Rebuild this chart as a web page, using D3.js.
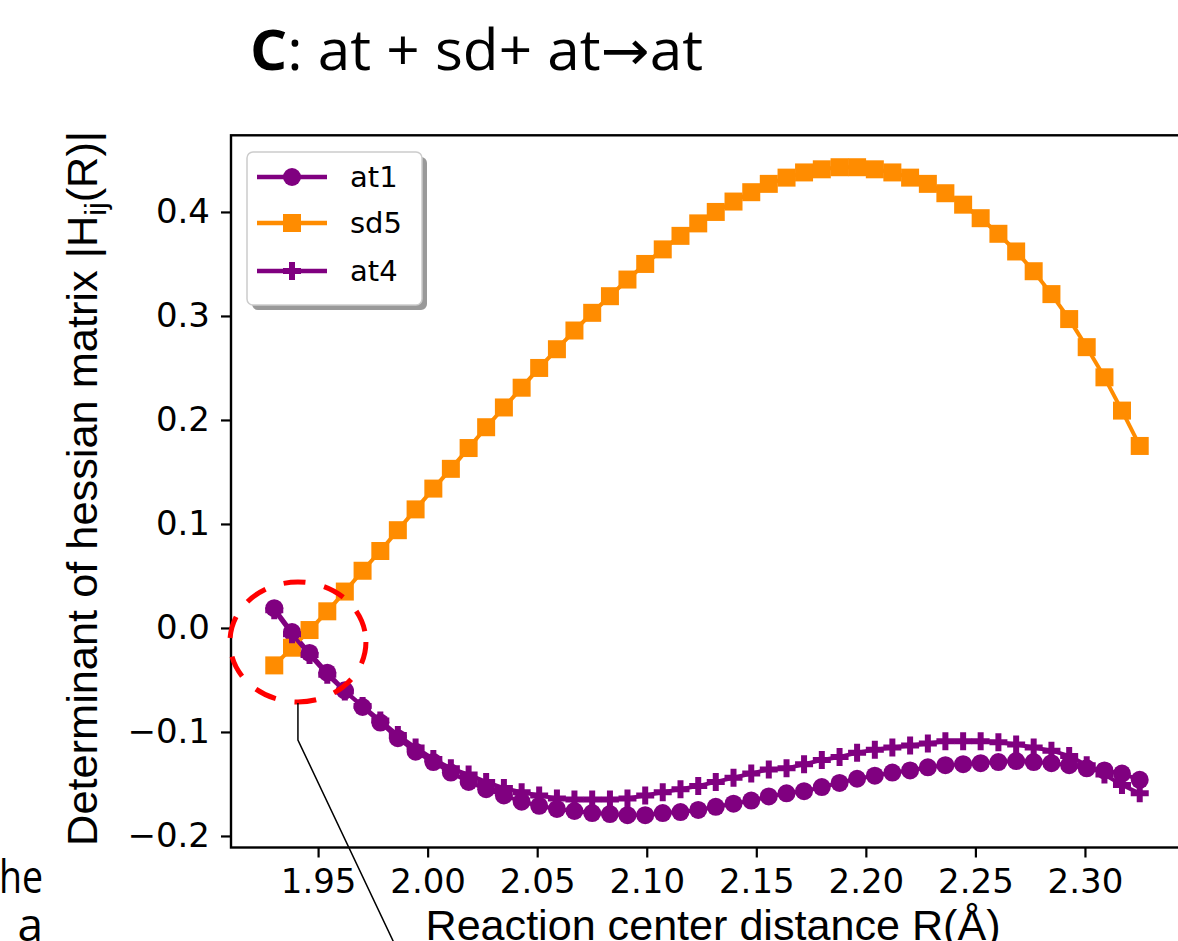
<!DOCTYPE html>
<html>
<head>
<meta charset="utf-8">
<script src="https://cdn.jsdelivr.net/npm/d3@7"></script>
<style>
  html, body { margin: 0; padding: 0; background: #fff; }
  svg { display: block; }
</style>
</head>
<body>
<svg id="chart" width="1178" height="941"></svg>
<script>
// ---------------- data ----------------
const xValues = [1.9300, 1.9381, 1.9461, 1.9542, 1.9622, 1.9703, 1.9784, 1.9864, 1.9945, 2.0026,
                 2.0106, 2.0187, 2.0267, 2.0348, 2.0429, 2.0509, 2.0590, 2.0670, 2.0751, 2.0832,
                 2.0912, 2.0993, 2.1073, 2.1154, 2.1235, 2.1315, 2.1396, 2.1477, 2.1557, 2.1638,
                 2.1718, 2.1799, 2.1880, 2.1960, 2.2041, 2.2121, 2.2202, 2.2283, 2.2363, 2.2444,
                 2.2524, 2.2605, 2.2686, 2.2766, 2.2847, 2.2928, 2.3008, 2.3089, 2.3169, 2.3250];

const at1 = [0.019, -0.004, -0.024, -0.043, -0.060, -0.076, -0.091, -0.106, -0.119, -0.129,
             -0.139, -0.148, -0.155, -0.161, -0.167, -0.171, -0.174, -0.176, -0.178, -0.179,
             -0.180, -0.180, -0.178, -0.177, -0.175, -0.172, -0.169, -0.166, -0.162, -0.159,
             -0.157, -0.153, -0.149, -0.145, -0.142, -0.139, -0.137, -0.134, -0.132, -0.131,
             -0.130, -0.129, -0.128, -0.129, -0.130, -0.132, -0.135, -0.137, -0.140, -0.146];

const sd5 = [-0.036, -0.019, -0.002, 0.016, 0.035, 0.055, 0.074, 0.094, 0.114, 0.134,
             0.153, 0.173, 0.193, 0.212, 0.231, 0.250, 0.268, 0.286, 0.303, 0.319,
             0.335, 0.350, 0.364, 0.377, 0.389, 0.400, 0.410, 0.419, 0.427, 0.433,
             0.438, 0.441, 0.443, 0.443, 0.441, 0.438, 0.433, 0.427, 0.418, 0.407,
             0.394, 0.379, 0.362, 0.343, 0.321, 0.297, 0.270, 0.241, 0.209, 0.175];

const at4 = [0.017, -0.006, -0.026, -0.045, -0.061, -0.075, -0.089, -0.103, -0.115, -0.126,
             -0.135, -0.141, -0.148, -0.154, -0.158, -0.161, -0.164, -0.165, -0.165, -0.165,
             -0.164, -0.161, -0.158, -0.155, -0.152, -0.148, -0.144, -0.140, -0.136, -0.135,
             -0.131, -0.127, -0.124, -0.120, -0.117, -0.115, -0.113, -0.111, -0.109, -0.109,
             -0.109, -0.110, -0.112, -0.115, -0.118, -0.123, -0.132, -0.141, -0.151, -0.159];

const seriesNames = ["at1", "sd5", "at4"];
const xTicks = [1.95, 2.00, 2.05, 2.10, 2.15, 2.20, 2.25, 2.30];
const xTickLabels = ["1.95", "2.00", "2.05", "2.10", "2.15", "2.20", "2.25", "2.30"];
const yTicks = [-0.2, -0.1, 0.0, 0.1, 0.2, 0.3, 0.4];
const yTickLabels = ["\u22120.2", "\u22120.1", "0.0", "0.1", "0.2", "0.3", "0.4"];

// ---------------- layout ----------------
const svg = d3.select("#chart");
const AX = { left: 231, right: 1183, top: 135.3, bottom: 847.5 };
const x = d3.scaleLinear().domain([1.91025, 2.34475]).range([AX.left, AX.right]);
const y = d3.scaleLinear().domain([-0.2111, 0.4737]).range([AX.bottom, AX.top]);

const PURPLE = "#800080", ORANGE = "#ff8c00";
const series = [
  { name: seriesNames[0], values: at1, color: PURPLE, marker: "circle" },
  { name: seriesNames[1], values: sd5, color: ORANGE, marker: "square" },
  { name: seriesNames[2], values: at4, color: PURPLE, marker: "plus" }
];

function markerPath(type, s) {
  const h = s / 2;
  if (type === "circle") {
    return `M${h},0A${h},${h} 0 1,1 ${-h},0A${h},${h} 0 1,1 ${h},0Z`;
  }
  if (type === "square") {
    return `M${-h},${-h}H${h}V${h}H${-h}Z`;
  }
  // filled plus (matplotlib 'P')
  const a = s / 6;
  return `M${-a},${-h}H${a}V${-a}H${h}V${a}H${a}V${h}H${-a}V${a}H${-h}V${-a}H${-a}Z`;
}

// ---------------- title & page fragments ----------------
const title = svg.append("text")
  .attr("x", 250).attr("y", 70)
  .attr("font-family", "'Open Sans', 'DejaVu Sans', sans-serif")
  .attr("font-size", 56)
  .attr("fill", "#000")
  .attr("textLength", 453)
  .attr("lengthAdjust", "spacingAndGlyphs");
title.append("tspan").attr("font-weight", "bold").text("C");
title.append("tspan").text(": at + sd+ at\u2192at");

svg.append("text").attr("x", -1).attr("y", 893)
  .attr("font-family", "'Open Sans', 'DejaVu Sans', sans-serif")
  .attr("font-size", 46)
  .attr("textLength", 44).attr("lengthAdjust", "spacingAndGlyphs")
  .text("he");
svg.append("text").attr("x", 43).attr("y", 941)
  .attr("text-anchor", "end")
  .attr("font-family", "'Open Sans', 'DejaVu Sans', sans-serif")
  .attr("font-size", 46).text("a");

// ---------------- axes ----------------
const xAxis = d3.axisBottom(x).tickValues(xTicks)
  .tickFormat((d, i) => xTickLabels[i]).tickSize(10).tickPadding(11);
const gx = svg.append("g").attr("transform", `translate(0,${AX.bottom})`).call(xAxis);
gx.select(".domain").remove();
gx.selectAll(".tick line").attr("stroke", "#000").attr("stroke-width", 2.2);
gx.selectAll(".tick text").attr("font-family", "'DejaVu Sans', sans-serif")
  .attr("font-size", 34).attr("fill", "#000");

const yAxis = d3.axisLeft(y).tickValues(yTicks)
  .tickFormat((d, i) => yTickLabels[i]).tickSize(10).tickPadding(11);
const gy = svg.append("g").attr("transform", `translate(${AX.left},0)`).call(yAxis);
gy.select(".domain").remove();
gy.selectAll(".tick line").attr("stroke", "#000").attr("stroke-width", 2.2);
gy.selectAll(".tick text").attr("font-family", "'DejaVu Sans', sans-serif")
  .attr("font-size", 34).attr("fill", "#000");

// frame
svg.append("rect")
  .attr("x", AX.left).attr("y", AX.top)
  .attr("width", AX.right - AX.left).attr("height", AX.bottom - AX.top)
  .attr("fill", "none").attr("stroke", "#000").attr("stroke-width", 2.4);

// axis labels
svg.append("text")
  .attr("x", (AX.left + AX.right) / 2 + 6).attr("y", 940)
  .attr("text-anchor", "middle")
  .attr("font-family", "'Liberation Sans', Arial, sans-serif")
  .attr("font-size", 43)
  .attr("textLength", 575).attr("lengthAdjust", "spacingAndGlyphs")
  .text("Reaction center distance R(\u00C5)");

const yl = svg.append("text")
  .attr("transform", `translate(97,${(AX.top + AX.bottom) / 2 - 3}) rotate(-90)`)
  .attr("text-anchor", "middle")
  .attr("font-family", "'Liberation Sans', Arial, sans-serif")
  .attr("font-size", 43)
  .attr("textLength", 715).attr("lengthAdjust", "spacingAndGlyphs");
yl.append("tspan").text("Determinant of hessian matrix |H");
yl.append("tspan").attr("font-size", 30).attr("dy", 9).text("ij");
yl.append("tspan").attr("dy", -9).text("(R)|");

// ---------------- series ----------------
const line = d3.line().x((d, i) => x(xValues[i])).y(d => y(d));
series.forEach(s => {
  const g = svg.append("g");
  g.append("path").attr("d", line(s.values))
    .attr("fill", "none").attr("stroke", s.color)
    .attr("stroke-width", 4).attr("stroke-linejoin", "round");
  g.selectAll("path.m").data(s.values).enter().append("path")
    .attr("class", "m")
    .attr("transform", (d, i) => `translate(${x(xValues[i])},${y(d)})`)
    .attr("d", markerPath(s.marker, 18))
    .attr("fill", s.color);
});

// ---------------- annotation (red dashed ellipse + leader line) ----------------
svg.append("ellipse")
  .attr("cx", x(1.9408)).attr("cy", y(-0.0135))
  .attr("rx", 68).attr("ry", 60)
  .attr("fill", "none").attr("stroke", "#ff0000")
  .attr("stroke-width", 5).attr("stroke-dasharray", "22,19");

svg.append("path")
  .attr("d", `M${x(1.9408)},${y(-0.0135) + 61}V740L395,945`)
  .attr("fill", "none").attr("stroke", "#000").attr("stroke-width", 1.5);

// ---------------- legend ----------------
const lg = svg.append("g");
lg.append("rect").attr("x", 252).attr("y", 157).attr("width", 175).attr("height", 153)
  .attr("rx", 6).attr("fill", "#999");
lg.append("rect").attr("x", 247).attr("y", 152).attr("width", 175).attr("height", 153)
  .attr("rx", 6).attr("fill", "#fff").attr("stroke", "#cccccc").attr("stroke-width", 1.5);
const rows = [177, 223, 271];
series.forEach((s, i) => {
  const ry = rows[i];
  lg.append("line").attr("x1", 257).attr("x2", 327).attr("y1", ry).attr("y2", ry)
    .attr("stroke", s.color).attr("stroke-width", 4.5);
  lg.append("path").attr("transform", `translate(292,${ry})`)
    .attr("d", markerPath(s.marker, 18)).attr("fill", s.color);
  lg.append("text").attr("x", 350).attr("y", ry + 10)
    .attr("font-family", "'DejaVu Sans', sans-serif").attr("font-size", 29)
    .text(s.name);
});
</script>
</body>
</html>
